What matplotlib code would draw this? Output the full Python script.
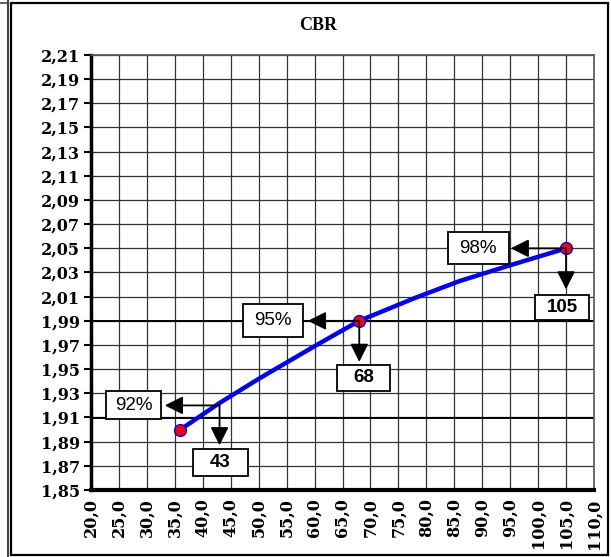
import matplotlib.pyplot as plt
import matplotlib.patches as patches
import numpy as np

# CBR curve (penetration value vs. dry density)
curve_x = [36, 43, 50, 60, 68, 78, 86, 95, 105]
curve_y = [1.900, 1.922, 1.942, 1.969, 1.990, 2.009, 2.023, 2.036, 2.050]

# marked points
pts_x = [36, 68, 105]
pts_y = [1.90, 1.99, 2.05]

# compaction levels and the CBR values read at them
levels = ['92%', '95%', '98%']
level_y = [1.92, 1.99, 2.05]
cbr_vals = ['43', '68', '105']
cbr_x = [43, 68, 105]

x_ticks = np.arange(20, 111, 5)
y_ticks = np.arange(1.85, 2.2101, 0.02)

fig = plt.figure(figsize=(6.11, 5.57), dpi=100)
ax = fig.add_axes([91/611, 67/557, 503/611, 435/557])

ax.set_xlim(20, 110)
ax.set_ylim(1.85, 2.21)
ax.set_xticks(x_ticks)
ax.set_yticks(y_ticks)
ax.set_xticklabels([('%.1f' % v).replace('.', ',') for v in x_ticks],
                   rotation=90, family='DejaVu Serif', fontweight='bold', fontsize=11.5)
ax.set_yticklabels([('%.2f' % v).replace('.', ',') for v in y_ticks],
                   family='DejaVu Serif', fontweight='bold', fontsize=11.5)
ax.tick_params(axis='y', direction='out', length=5, width=1.5, pad=3)
ax.tick_params(axis='x', direction='out', length=0, pad=6)

ax.grid(True, color='#333333', linewidth=0.9)
ax.set_axisbelow(True)
# the two full-width guide lines look heavier
for yy in [1.91, 1.99]:
    ax.axhline(yy, color='black', linewidth=1.4, zorder=1)

for s in ['top', 'right']:
    ax.spines[s].set_color('#555555')
    ax.spines[s].set_linewidth(1.2)
ax.spines['left'].set_linewidth(2.5)
ax.spines['bottom'].set_linewidth(3)
ax.spines['bottom'].set_linestyle((0, (1, 1)))

ax.plot(curve_x, curve_y, color='#0000ff', linewidth=3.2, zorder=3)
ax.plot(pts_x, pts_y, 'o', color='red', markeredgecolor='blue',
        markersize=8.5, markeredgewidth=1, zorder=4)

# arrows: left to the level box, down to the CBR box
arrow_left_tip = [33.2, 58.8, 95.1]
arrow_down_tip = [1.887, 1.956, 2.016]
level_box_x = [27.6, 52.6, 89.3]
level_box_w = [55, 60, 61]   # box sizes in pixels
level_box_h = [28, 33, 32]
cbr_box_y = [1.873, 1.943, 2.001]
cbr_box_x = [43.1, 68.8, 104.3]
cbr_box_w = [55, 53, 54]
cbr_box_h = [27, 26, 25]

px_x = 90 / 503    # data units per pixel
px_y = 0.36 / 435

aprops = dict(arrowstyle='-|>,head_length=1.1,head_width=0.55',
              color='black', linewidth=1.3, shrinkA=0, shrinkB=0)


def box(x, y, w, h):
    ax.add_patch(patches.Rectangle((x - w * px_x / 2, y - h * px_y / 2), w * px_x, h * px_y,
                                   facecolor='white', edgecolor='black',
                                   linewidth=1.3, zorder=6))


for i in range(3):
    ax.annotate('', xy=(arrow_left_tip[i], level_y[i]), xytext=(cbr_x[i], level_y[i]),
                arrowprops=aprops, zorder=5)
    ax.annotate('', xy=(cbr_x[i], arrow_down_tip[i]), xytext=(cbr_x[i], level_y[i]),
                arrowprops=aprops, zorder=5)
    box(level_box_x[i], level_y[i], level_box_w[i], level_box_h[i])
    ax.text(level_box_x[i], level_y[i], levels[i], ha='center', va='center',
            family='Liberation Sans', fontsize=13.5, zorder=7)
    box(cbr_box_x[i], cbr_box_y[i], cbr_box_w[i], cbr_box_h[i])
    ax.text(cbr_box_x[i], cbr_box_y[i], cbr_vals[i], ha='center', va='center',
            family='Liberation Sans', fontweight='bold', fontsize=13.5, zorder=7)

fig.text(318/611, 1 - 25/557, 'CBR', ha='center', va='center',
         family='Liberation Serif', fontweight='bold', fontsize=13)

# chart frame and the edge of the neighbouring chart
fig.patches.append(patches.Rectangle((11/611, 2/557), 597/611, 552/557,
                                     transform=fig.transFigure, fill=False,
                                     edgecolor='black', linewidth=1.6))
fig.lines.append(plt.Line2D([8/611, 8/611], [0, 1], transform=fig.transFigure,
                            color='#444444', linewidth=1.5))
fig.lines.append(plt.Line2D([0, 8/611], [1 - 3/557, 1 - 3/557], transform=fig.transFigure,
                            color='#444444', linewidth=1.2))

fig.savefig('out.png', dpi=100)
